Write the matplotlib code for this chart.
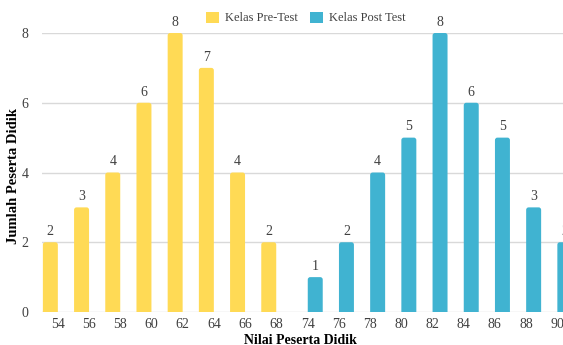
import numpy as np
import matplotlib.pyplot as plt
from matplotlib.patches import FancyBboxPatch, Patch

plt.rcParams['font.family'] = ['Liberation Serif', 'DejaVu Serif']

nilai = ['54', '56', '58', '60', '62', '64', '66', '68',
         '74', '76', '78', '80', '82', '84', '86', '88', '90']
pre_test = [2, 3, 4, 6, 8, 7, 4, 2, 0, 0, 0, 0, 0, 0, 0, 0, 0]
post_test = [0, 0, 0, 0, 0, 0, 0, 0, 1, 2, 4, 5, 8, 6, 5, 3, 2]

kuning = '#FFDA55'
biru = '#40B3D1'
teks = '#404040'

fig = plt.figure(figsize=(5.63, 3.45), dpi=100)
# axes run a little past the right edge, so the last bar is cut off
ax = fig.add_axes([42.4 / 563, 33 / 345, 530.4 / 563, 279 / 345])

x = np.arange(len(nilai))
w = 0.48
off = 0.245
# y-units per x-unit on screen, so the rounded corners stay circular
aspek = (8 / 279) / (len(nilai) / 530.4)

for xs, vals, col in [(x - off, pre_test, kuning), (x + off, post_test, biru)]:
    xs_ = [a for a, v in zip(xs, vals) if v > 0]
    vs = [v for v in vals if v > 0]
    bars = ax.bar(xs_, vs, width=w, color=col, zorder=3)
    # swap each plain bar for one with rounded top corners
    for r in list(bars):
        bx, by = r.get_x(), r.get_y()
        bw, bh = r.get_width(), r.get_height()
        ax.add_patch(FancyBboxPatch((bx, by - 0.15), bw, bh + 0.15,
                                    boxstyle='round,pad=0,rounding_size=0.08',
                                    mutation_aspect=aspek, fc=col, ec='none',
                                    zorder=3))
        r.remove()
    for a, v in zip(xs_, vs):
        ax.text(a, v + 0.12, str(v), ha='center', va='bottom',
                fontsize=10, color=teks, clip_on=False)

ax.set_xlim(-0.5, len(nilai) - 0.5)
ax.set_ylim(0, 8)
ax.set_yticks([0, 2, 4, 6, 8])
ax.set_xticks(x)
ax.set_xticklabels(nilai)
ax.tick_params(axis='both', length=0, labelsize=10, labelcolor=teks)
ax.tick_params(axis='x', pad=4)
ax.tick_params(axis='y', pad=10)
ax.grid(axis='y', color='#D9D9D9', linewidth=1, zorder=0)
for s in ax.spines.values():
    s.set_visible(False)

fig.text(300 / 563, 1 - 340 / 345, 'Nilai Peserta Didik', ha='center',
         va='center', fontsize=10, fontweight='bold', color='black')
fig.text(14 / 563, 1 - 176 / 345, 'Jumlah Peserta Didik', ha='center',
         va='center', rotation=90, fontsize=10.5, fontweight='bold',
         color='black')

handles = [Patch(fc=kuning, ec='none', label='Kelas Pre-Test'),
           Patch(fc=biru, ec='none', label='Kelas Post Test')]
fig.legend(handles=handles, loc='center', bbox_to_anchor=(306 / 563, 1 - 18 / 345),
           ncol=2, frameon=False, fontsize=9, handlelength=1.0,
           handleheight=1.0, handletextpad=0.5, columnspacing=1.0,
           labelcolor=teks)

fig.savefig('out.png', dpi=100)
